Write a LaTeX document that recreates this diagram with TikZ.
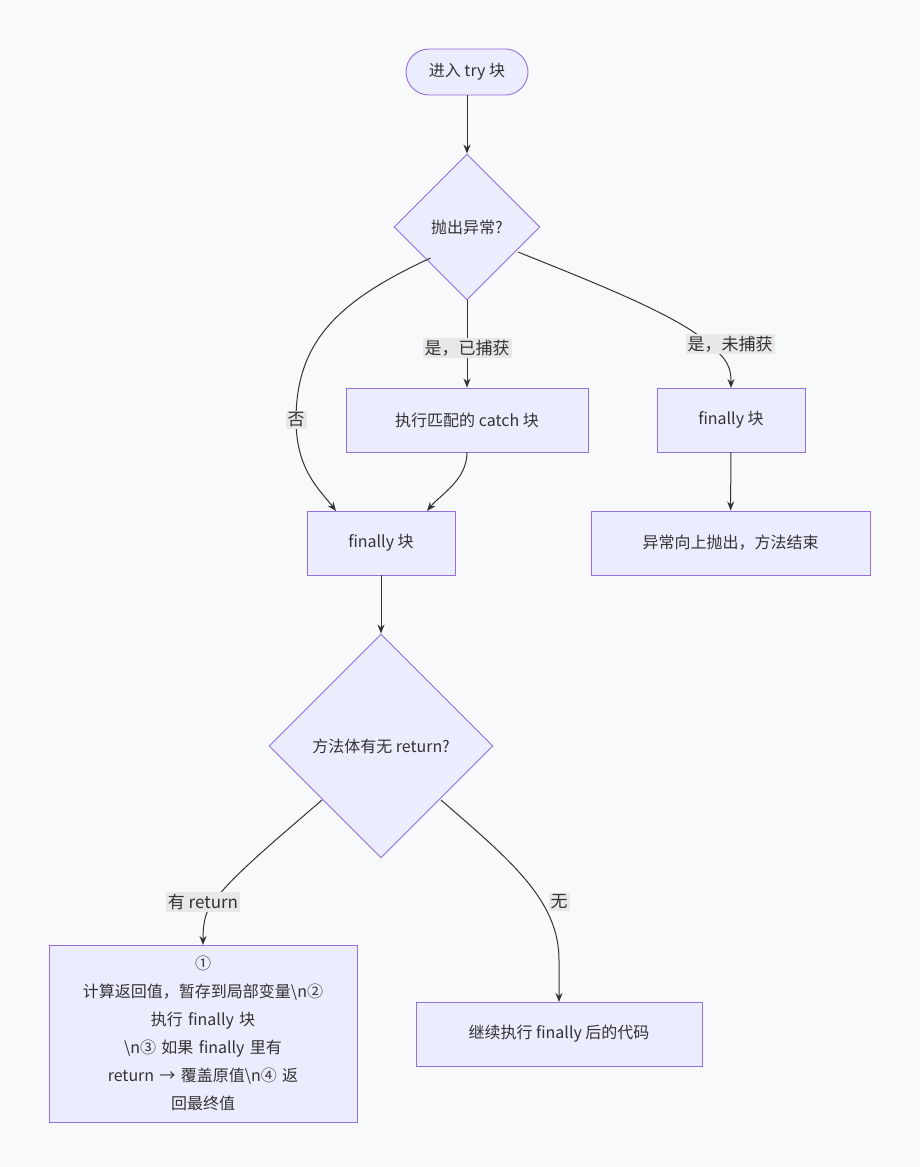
\documentclass[tikz,border=0pt]{standalone}
\usepackage{fontspec}
\setmainfont{Noto Sans CJK SC}
\usetikzlibrary{shapes.geometric,arrows.meta}
\definecolor{bg}{HTML}{F8F9FB}
\definecolor{nfill}{HTML}{ECECFF}
\definecolor{nline}{HTML}{9370DB}
\definecolor{lbl}{HTML}{E8E8E8}
\definecolor{ln}{HTML}{333333}
\tikzset{
  box/.style={draw=nline,fill=nfill,line width=0.9pt,inner sep=0pt,font=\fontsize{16}{28}\selectfont,text=ln},
  dia/.style={box,diamond,aspect=1},
  conn/.style={draw=ln,line width=1pt,-{Stealth[length=9pt,width=7pt]}},
  elab/.style={fill=lbl,inner sep=2pt,font=\fontsize{17}{20}\selectfont,text=ln}
}
\begin{document}
\begin{tikzpicture}[x=1pt,y=-1pt]
\fill[bg] (0,0) rectangle (920,1167);
\useasboundingbox (0,0) rectangle (920,1167);
\node[box,rounded corners=23pt,minimum width=122pt,minimum height=46pt] (start) at (467,72) {进入 try 块};
\node[dia,minimum size=146pt] (d1) at (467,227) {抛出异常?};
\node[box,minimum width=242pt,minimum height=64pt] (catch) at (467,420) {执行匹配的 catch 块};
\node[box,minimum width=148pt,minimum height=64pt] (fin2) at (731,420) {finally 块};
\node[box,minimum width=148pt,minimum height=64pt] (fin1) at (381,543) {finally 块};
\node[box,minimum width=279pt,minimum height=64pt] (exc) at (730.5,543) {异常向上抛出，方法结束};
\node[dia,minimum size=224pt] (d2) at (381,746) {方法体有无 return?};
\node[box,minimum width=308pt,minimum height=177pt,text width=250pt,align=center] (ret) at (203,1033.5) {① 计算返回值，暂存到局部变量\textbackslash n② 执行 finally 块\\\textbackslash n③ 如果 finally 里有\\return → 覆盖原值\textbackslash n④ 返\\回最终值};
\node[box,minimum width=286pt,minimum height=64pt] (cont) at (559,1034) {继续执行 finally 后的代码};

\draw[conn] (start) -- (d1);
\draw[conn] (d1) -- node[elab,pos=0.55]{是，已捕获} (catch);
\draw[conn] (d1.west)++(37,31) .. controls (340,300) and (296,340) .. (296,420) .. controls (296,470) and (320,490) .. (336,511);
\node[elab] at (296,420) {否};
\draw[conn] (catch.south) .. controls (467,480) and (440,495) .. (427,511);
\draw[conn] (518,252) .. controls (600,285) and (690,320) .. (715,350) .. controls (731,362) and (731,375) .. (731,388);
\node[elab] at (730,344) {是，未捕获};
\draw[conn] (fin2) -- (exc);
\draw[conn] (fin1) -- (d2);
\draw[conn] (322,800) .. controls (270,845) and (215,890) .. (206,915) .. controls (203,925) and (203,935) .. (203,945);
\node[elab] at (203,902) {有 return};
\draw[conn] (441,800) .. controls (510,860) and (559,900) .. (559,960) -- (559,1002);
\node[elab] at (559,902) {无};
\end{tikzpicture}
\end{document}
